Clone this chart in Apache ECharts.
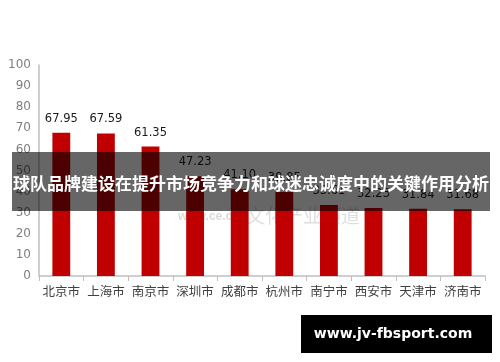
<!DOCTYPE html>
<html>
<head>
<meta charset="utf-8">
<script src="https://cdn.jsdelivr.net/npm/echarts@6/dist/echarts.min.js"></script>
<style>html,body{margin:0;padding:0;background:#fff;}#c{width:500px;height:362px;}</style>
</head>
<body>
<div id="c"></div>
<script>
var categories = ['北京市','上海市','南京市','深圳市','成都市','杭州市','南宁市','西安市','天津市','济南市'];
var values = [67.95, 67.59, 61.35, 47.23, 41.10, 39.85, 33.61, 32.23, 31.84, 31.68];
var yTicks = [0, 10, 20, 30, 40, 50, 60, 70, 80, 90, 100];
var titleText = '球队品牌建设在提升市场竞争力和球迷忠诚度中的关键作用分析';
var watermarkText = 'www.jv-fbsport.com';

var chart = echarts.init(document.getElementById('c'), null, {renderer: 'canvas'});
chart.setOption({
  animation: false,
  backgroundColor: '#ffffff',
  grid: {left: 39, right: 15, top: 65, bottom: 86},
  xAxis: {
    type: 'category',
    data: categories,
    axisLine: {lineStyle: {color: '#bfbfbf', width: 1.5}},
    axisTick: {show: true, length: 5, lineStyle: {color: '#bfbfbf'}},
    axisLabel: {color: '#404040', fontSize: 12.5, fontFamily: 'Noto Sans CJK SC', margin: 9, interval: 0}
  },
  yAxis: {
    type: 'value',
    min: yTicks[0],
    max: yTicks[yTicks.length - 1],
    interval: 10,
    axisLine: {show: true, lineStyle: {color: '#bfbfbf', width: 1.5}},
    axisTick: {show: false},
    splitLine: {show: false},
    axisLabel: {color: '#7f7f7f', fontSize: 12, fontFamily: 'DejaVu Sans', margin: 8}
  },
  series: [{
    type: 'bar',
    data: values,
    barWidth: '40%',
    itemStyle: {color: '#c00000'},
    label: {
      show: true, position: 'top', distance: 8,
      color: '#1a1a1a', fontSize: 11.5, fontFamily: 'DejaVu Sans',
      formatter: function (p) { return p.value.toFixed(2); }
    }
  }],
  graphic: [
    {type: 'text', left: 178, top: 211, z: 1, style: {text: 'www.ce.cn', fill: 'rgba(150,150,150,0.35)', font: 'bold 12px Arial'}},
    {type: 'text', left: 246, top: 206, z: 1, style: {text: '文化产业频道', fill: 'rgba(150,150,150,0.3)', font: '19px "Noto Sans CJK SC"'}},
    {type: 'rect', shape: {x: 12, y: 152, width: 478, height: 59}, style: {fill: 'rgba(0,0,0,0.6)'}, z: 100},
    {type: 'text', x: 251, y: 184, z: 101, style: {text: titleText, fill: '#ffffff', font: 'bold 17px "Noto Sans CJK SC"', textAlign: 'center', textVerticalAlign: 'middle'}},
    {type: 'rect', shape: {x: 301, y: 315, width: 191, height: 38}, style: {fill: '#000000'}, z: 100},
    {type: 'text', x: 393, y: 334, z: 101, style: {text: watermarkText, fill: '#ffffff', font: 'bold 14px "DejaVu Sans"', textAlign: 'center', textVerticalAlign: 'middle'}}
  ]
});
</script>
</body>
</html>
